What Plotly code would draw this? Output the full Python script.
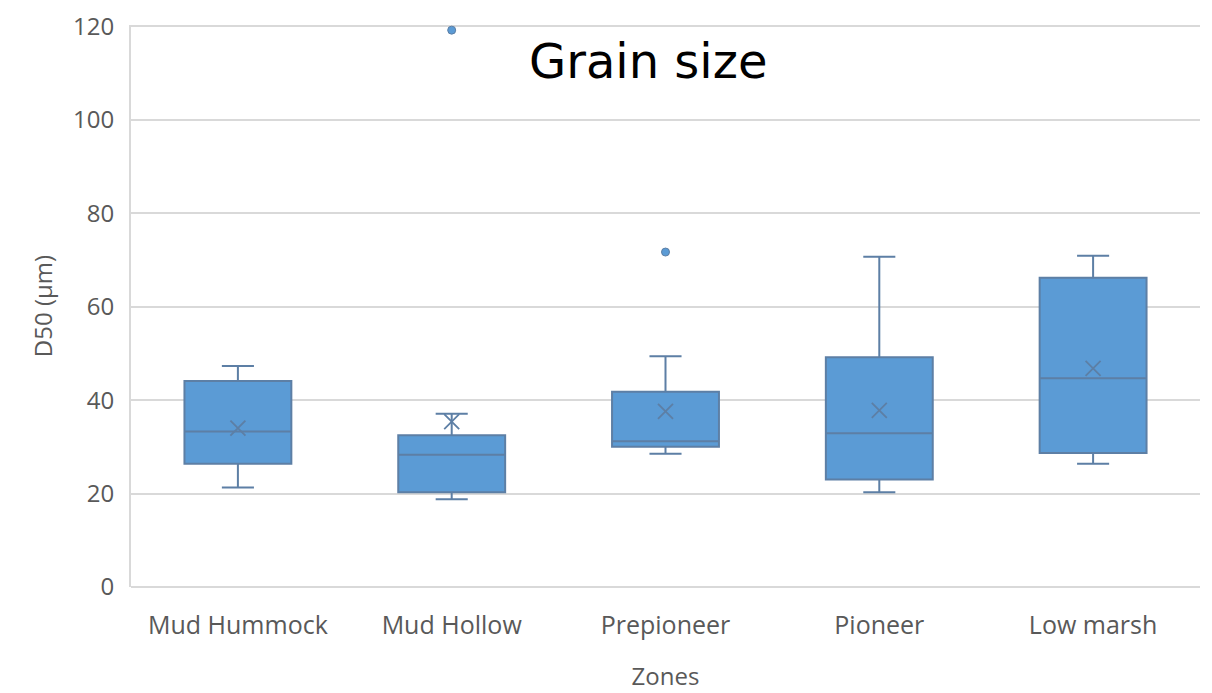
import plotly.graph_objects as go

zones = ["Mud Hummock", "Mud Hollow", "Prepioneer", "Pioneer", "Low marsh"]
lower_whisker = [21.3, 18.8, 28.5, 20.3, 26.4]
q1_vals = [26.4, 20.3, 30.0, 23.0, 28.7]
median_vals = [33.3, 28.3, 31.2, 32.9, 44.7]
q3_vals = [44.1, 32.5, 41.8, 49.2, 66.2]
upper_whisker = [47.3, 37.1, 49.4, 70.7, 70.9]
mean_vals = [34.0, 35.4, 37.6, 37.8, 46.8]
outlier_zones = ["Mud Hollow", "Prepioneer"]
outlier_vals = [119.2, 71.7]
y_ticks = [0, 20, 40, 60, 80, 100, 120]

FILL = "#5B9BD5"
EDGE = "#5d7fa5"
TXT = "#595959"
GRID = "#d9d9d9"
FONT = "Open Sans"
FS = 24

fig = go.Figure()
fig.add_trace(go.Box(
    x=zones,
    q1=q1_vals, median=median_vals, q3=q3_vals,
    lowerfence=lower_whisker, upperfence=upper_whisker,
    fillcolor=FILL,
    line=dict(color=EDGE, width=2),
    whiskerwidth=0.3,
    width=0.5,
    boxpoints=False,
    showlegend=False,
))
fig.add_trace(go.Scatter(
    x=zones, y=mean_vals, mode="markers",
    marker=dict(symbol="x-thin", size=15, line=dict(color=EDGE, width=1.8)),
    showlegend=False,
))
fig.add_trace(go.Scatter(
    x=outlier_zones, y=outlier_vals, mode="markers",
    marker=dict(symbol="circle", size=8, color=FILL, line=dict(color=EDGE, width=1)),
    showlegend=False,
))

fig.update_layout(
    width=1212, height=693,
    margin=dict(l=123, r=20, t=17, b=114, autoexpand=False),
    paper_bgcolor="white", plot_bgcolor="white",
    font=dict(family=FONT, color=TXT, size=FS),
    annotations=[dict(
        text="Grain size", x=0.4836, y=0.936, xref="paper", yref="paper",
        showarrow=False, xanchor="center", yanchor="middle",
        font=dict(family="DejaVu Sans", size=48, color="black"),
    )],
)
fig.update_xaxes(
    type="category", categoryorder="array", categoryarray=zones,
    range=[-0.5, 4.5], automargin=False,
    showgrid=False, showline=False, zeroline=False,
    ticks="", ticklabelstandoff=21,
    tickfont=dict(family=FONT, size=FS + 1, color=TXT),
    title=dict(text="Zones", font=dict(family=FONT, size=FS, color=TXT), standoff=28),
)
fig.update_yaxes(
    range=[0, 120.3], tickvals=y_ticks, automargin=False,
    ticklabeloverflow="allow",
    showgrid=True, gridcolor=GRID, gridwidth=2,
    showline=True, linecolor=GRID, linewidth=2,
    zeroline=True, zerolinecolor=GRID, zerolinewidth=2,
    ticks="", ticklabelstandoff=10,
    tickfont=dict(family=FONT, size=FS, color=TXT),
    title=dict(text="D50 (µm)", font=dict(family=FONT, size=FS, color=TXT), standoff=14),
)

fig.write_html("out.html")
